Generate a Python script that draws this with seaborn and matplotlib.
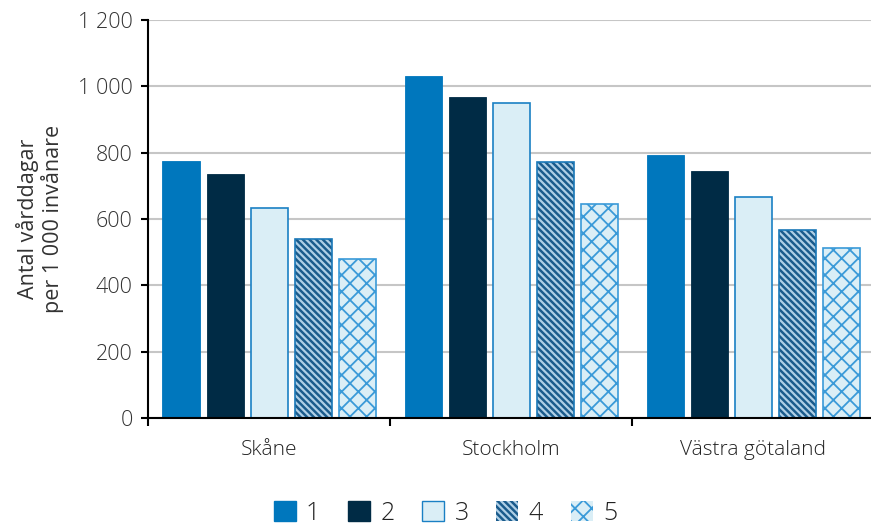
import matplotlib
matplotlib.use("Agg")
import matplotlib.pyplot as plt
import matplotlib.patches as mpatches
import seaborn as sns
import pandas as pd

# Data: care days per 1 000 inhabitants, by region and group 1-5
regions = ["Skåne", "Stockholm", "Västra götaland"]
groups = ["1", "2", "3", "4", "5"]
skane = [775, 736, 633, 540, 479]
stockholm = [1031, 968, 950, 772, 645]
vastra = [793, 745, 666, 567, 512]
y_ticks = [0, 200, 400, 600, 800, 1000, 1200]
y_tick_labels = ["0", "200", "400", "600", "800", "1 000", "1 200"]
y_label = "Antal vårddagar\nper 1 000 invånare"

rows = []
for region, vals in zip(regions, [skane, stockholm, vastra]):
    for g, v in zip(groups, vals):
        rows.append({"region": region, "group": g, "value": v})
df = pd.DataFrame(rows)

# Styling per group: face, edge, hatch, hatch colour
face = {"1": "#0077bd", "2": "#002b45", "3": "#daeef6", "4": "#1a5b8c", "5": "#daeef6"}
edge = {"1": "#0077bd", "2": "#002b45", "3": "#1a80c4", "4": "#1a78b8", "5": "#3a9ad8"}
hatch = {"1": None, "2": None, "3": None, "4": "\\" * 5, "5": "xx"}
hatch_col = {"4": "#afcfe6", "5": "#3a9ad8"}
hatch_lw = {"4": 1.6, "5": 1.3}

sns.set_theme(style="white")
plt.rcParams["font.family"] = ["Open Sans", "DejaVu Sans"]
plt.rcParams["font.weight"] = "light"

fig = plt.figure(figsize=(8.71, 5.30), dpi=100)
ax = fig.add_axes([0.170, 0.211, 0.834, 0.751])

sns.barplot(data=df, x="region", y="value", hue="group", order=regions,
            hue_order=groups, palette=[face[g] for g in groups],
            width=0.91, gap=0.16, saturation=1, legend=False, ax=ax, zorder=3)

# Bars come in hue order, each hue spanning all regions
bars = [p for p in ax.patches if isinstance(p, mpatches.Rectangle)]
n = len(regions)
for i, g in enumerate(groups):
    for p in bars[i * n:(i + 1) * n]:
        p.set_facecolor(face[g])
        if hatch[g]:
            p.set_hatch(hatch[g])
            p.set_edgecolor(hatch_col[g])
            p.set_linewidth(0)
            if hasattr(p, "set_hatch_linewidth"):
                p.set_hatch_linewidth(hatch_lw[g])
            outline = mpatches.Rectangle(p.get_xy(), p.get_width(), p.get_height(),
                                         fill=False, edgecolor=edge[g], linewidth=1.2,
                                         zorder=4)
            ax.add_patch(outline)
        else:
            p.set_edgecolor(edge[g])
            p.set_linewidth(1.2 if g == "3" else 0.6)

ax.set_ylim(0, 1200)
ax.set_xlim(-0.5, 2.5)
ax.set_yticks(y_ticks)
ax.set_yticklabels(y_tick_labels)
ax.yaxis.grid(True, color="#c6c6c6", linewidth=1.5, zorder=0)
ax.set_axisbelow(True)

ax.set_xticks([0, 1, 2])
ax.set_xticklabels(regions)
ax.set_xticks([-0.5, 0.5, 1.5, 2.5], minor=True)
ax.tick_params(axis="x", which="major", length=0, pad=16, labelsize=15, colors="#222222")
ax.tick_params(axis="x", which="minor", length=6, width=1.5, color="black", direction="out", bottom=True)
ax.tick_params(axis="y", which="major", length=5, width=1.5, color="black", direction="out",
               left=True, labelsize=15.5, labelcolor="#333333", pad=6)

for s in ["top", "right"]:
    ax.spines[s].set_visible(False)
for s in ["left", "bottom"]:
    ax.spines[s].set_color("black")
    ax.spines[s].set_linewidth(1.5)
    ax.spines[s].set_zorder(5)

ax.set_xlabel("")
ax.set_ylabel(y_label, fontsize=15.5, color="#333333", linespacing=1.1, labelpad=10)

# Legend below the plot
handles = []
for g in groups:
    if hatch[g]:
        h = mpatches.Patch(facecolor=face[g], edgecolor=hatch_col[g], hatch=hatch[g],
                           linewidth=0)
    else:
        h = mpatches.Patch(facecolor=face[g], edgecolor=edge[g], linewidth=1.0)
    handles.append(h)
leg = fig.legend(handles, groups, loc="center", bbox_to_anchor=(0.5115, 0.032), ncol=5,
                 frameon=False, fontsize=18, handlelength=0.88, handleheight=0.88,
                 handletextpad=0.42, columnspacing=1.1, labelcolor="#222222",
                 borderpad=0.1)
for g, h in zip(groups, leg.legend_handles):
    if hatch[g] and hasattr(h, "set_hatch_linewidth"):
        h.set_hatch_linewidth(hatch_lw[g])

fig.savefig("out.png", dpi=100)
